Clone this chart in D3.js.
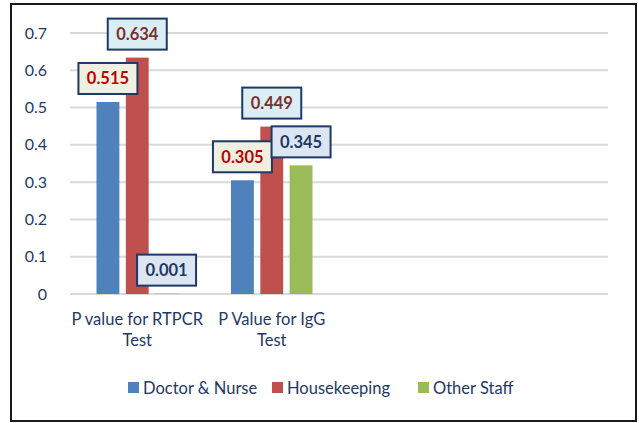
<!DOCTYPE html>
<html>
<head>
<meta charset="utf-8">
<script src="https://cdn.jsdelivr.net/npm/d3@7"></script>
<style>
  body { margin: 0; background: #fff; }
  svg { font-family: Lato, "Open Sans", sans-serif; }
</style>
</head>
<body>
<svg id="chart" width="639" height="423"></svg>
<script>
// chart values
var categories = [["P value for RTPCR", "Test"], ["P Value for IgG", "Test"]];
var slotCount = 4;
var seriesNames = ["Doctor & Nurse", "Housekeeping", "Other Staff"];
var doctorNurse = [0.515, 0.305];
var housekeeping = [0.634, 0.449];
var otherStaff = [0.001, 0.345];
var yTicks = [0, 0.1, 0.2, 0.3, 0.4, 0.5, 0.6, 0.7];

var seriesValues = [doctorNurse, housekeeping, otherStaff];
var colors = ["#4f81bd", "#c0504d", "#9bbb59"];
var labelFill = ["#eef1e1", "#dbeef4", "#dce6f2"];
var labelText = ["#c00000", "#7b302e", "#1f3864"];
var navy = "#1f3864";
var fontSize = 16.5;

var svg = d3.select("#chart");

svg.append("rect")
    .attr("x", 11).attr("y", 4)
    .attr("width", 625).attr("height", 417)
    .attr("fill", "#fff")
    .attr("stroke", "#1a1a1a")
    .attr("stroke-width", 2);

var margin = {top: 33, left: 70, right: 31, bottom: 129};
var width = 639 - margin.left - margin.right;
var height = 423 - margin.top - margin.bottom;
var g = svg.append("g").attr("transform", "translate(" + margin.left + "," + margin.top + ")");

var x = d3.scaleBand().domain(d3.range(slotCount)).range([0, width]);
var xs = d3.scaleBand().domain(d3.range(seriesNames.length))
    .range([x.bandwidth() * 0.197, x.bandwidth() * 0.803])
    .paddingInner(0.22);
var y = d3.scaleLinear().domain([0, 0.7]).range([height, 0]);

// gridlines
g.append("g")
    .selectAll("line")
    .data(yTicks)
    .join("line")
    .attr("x1", 0).attr("x2", width)
    .attr("y1", function(d) { return y(d); })
    .attr("y2", function(d) { return y(d); })
    .attr("stroke", "#d9d9d9")
    .attr("stroke-width", 2);

// y axis
var yAxis = g.append("g")
    .attr("transform", "translate(-20,0)")
    .call(d3.axisLeft(y).tickValues(yTicks).tickSize(0).tickFormat(function(d) { return d === 0 ? "0" : d3.format(".1f")(d); }));
yAxis.select(".domain").remove();
yAxis.selectAll("text")
    .attr("fill", navy)
    .attr("font-size", 16)
    .attr("font-family", "Lato, sans-serif");

// bars
var bars = [];
seriesValues.forEach(function(vals, s) {
    vals.forEach(function(v, c) { bars.push({s: s, c: c, v: v}); });
});

g.append("g")
    .selectAll("rect")
    .data(bars)
    .join("rect")
    .attr("x", function(d) { return x(d.c) + xs(d.s); })
    .attr("y", function(d) { return y(d.v); })
    .attr("width", xs.bandwidth())
    .attr("height", function(d) { return y(0) - y(d.v); })
    .attr("fill", function(d) { return colors[d.s]; });

// data labels
var lw = 59, lh = 31;
var labels = g.append("g")
    .selectAll("g")
    .data(bars)
    .join("g")
    .attr("transform", function(d) {
        return "translate(" + (x(d.c) + xs(d.s) + xs.bandwidth() / 2) + "," + (y(d.v) - 8 - lh / 2) + ")";
    });
labels.append("rect")
    .attr("x", -lw / 2).attr("y", -lh / 2)
    .attr("width", lw).attr("height", lh)
    .attr("fill", function(d) { return labelFill[d.s]; })
    .attr("stroke", navy)
    .attr("stroke-width", 2);
labels.append("text")
    .attr("text-anchor", "middle")
    .attr("dy", "0.36em")
    .attr("font-size", fontSize)
    .attr("font-weight", "bold")
    .attr("fill", function(d) { return labelText[d.s]; })
    .text(function(d) { return d3.format(".3f")(d.v); });

// category labels
var cat = g.append("g")
    .selectAll("text")
    .data(categories)
    .join("text")
    .attr("x", function(d, i) { return x(i) + x.bandwidth() / 2; })
    .attr("y", height + 31)
    .attr("text-anchor", "middle")
    .attr("fill", navy)
    .attr("font-size", fontSize);
cat.selectAll("tspan")
    .data(function(d) { return d; })
    .join("tspan")
    .attr("x", function() { return d3.select(this.parentNode).attr("x"); })
    .attr("dy", function(d, i) { return i === 0 ? 0 : 21; })
    .text(function(d) { return d; });

// legend
var legendX = [128, 272, 418];
var legend = svg.append("g")
    .selectAll("g")
    .data(seriesNames)
    .join("g")
    .attr("transform", function(d, i) { return "translate(" + legendX[i] + ",388)"; });
legend.append("rect")
    .attr("x", 0).attr("y", -6)
    .attr("width", 11).attr("height", 11)
    .attr("fill", function(d, i) { return colors[i]; });
legend.append("text")
    .attr("x", 15)
    .attr("dy", "0.35em")
    .attr("fill", navy)
    .attr("font-size", fontSize)
    .text(function(d) { return d; });
</script>
</body>
</html>
